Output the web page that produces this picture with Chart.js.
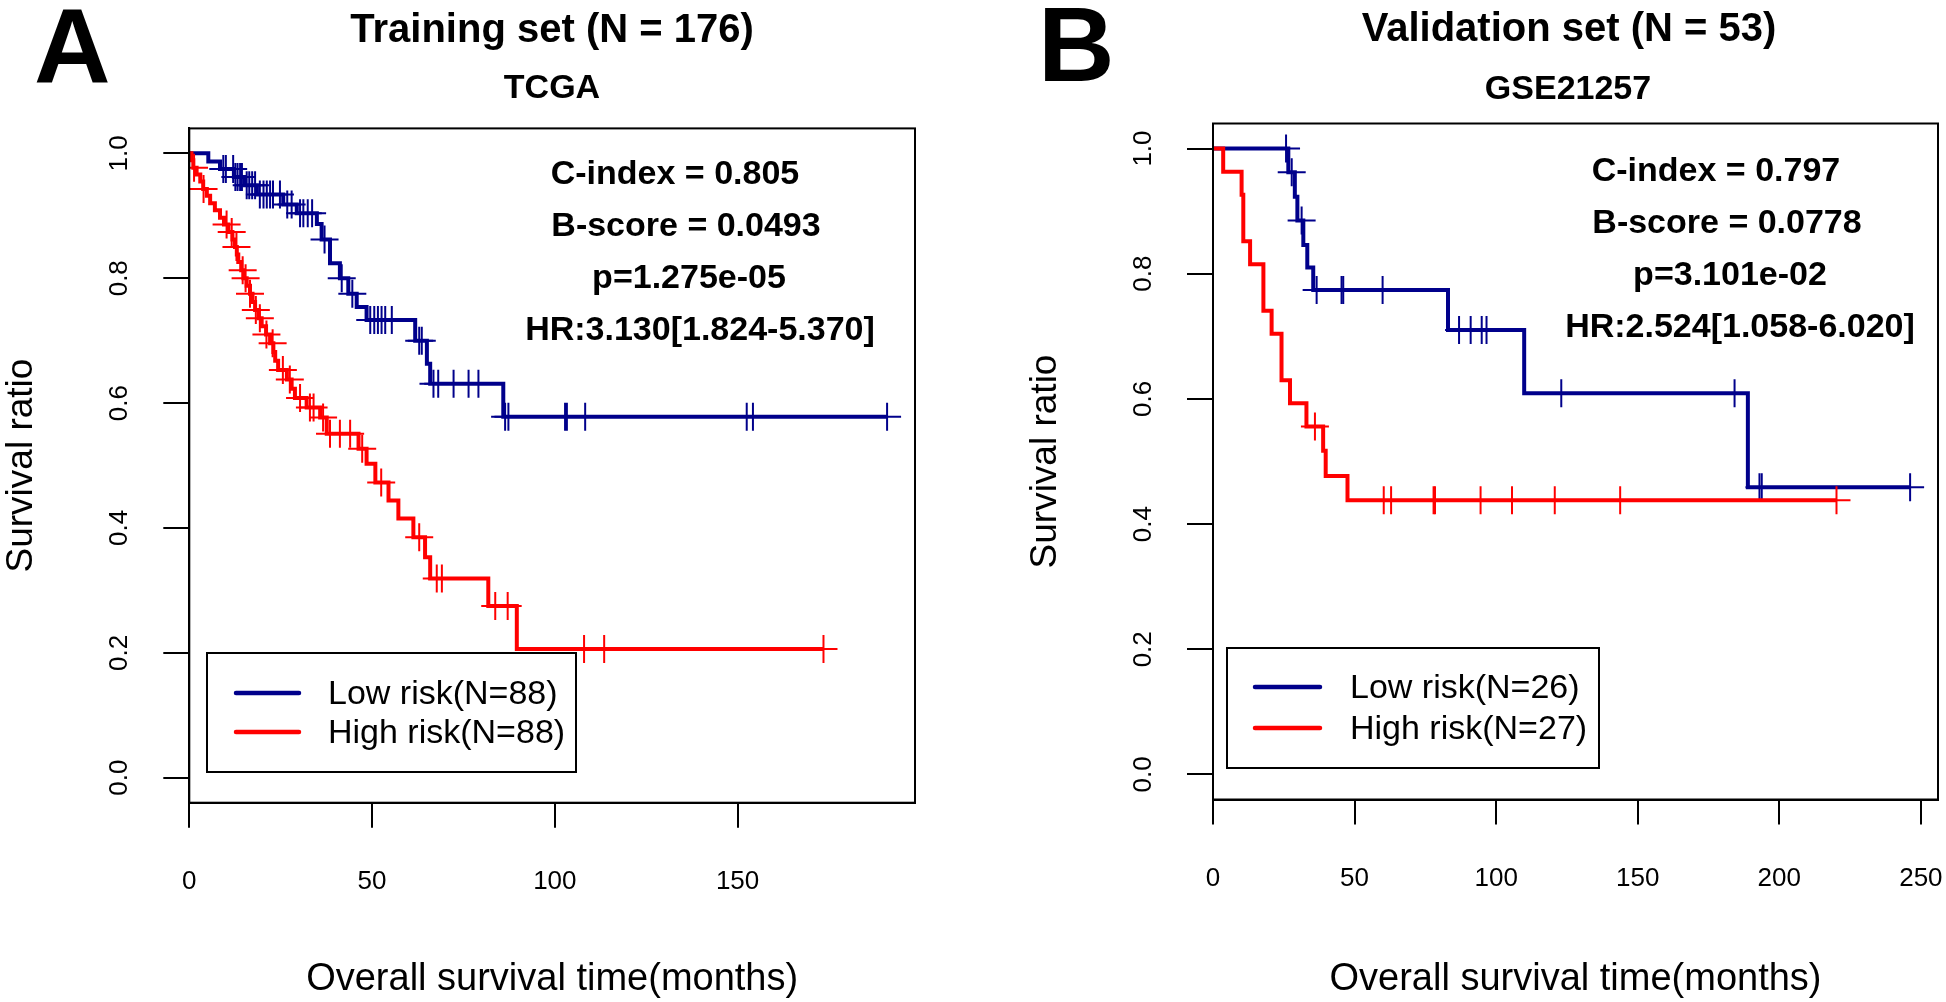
<!DOCTYPE html>
<html>
<head>
<meta charset="utf-8">
<script src="https://cdn.jsdelivr.net/npm/chart.js"></script>
<style>
html,body{margin:0;padding:0;background:#fff;width:1946px;height:1002px;overflow:hidden;position:relative}
canvas{position:absolute;top:0}
#cA{left:0;width:973px;height:1002px}
#cB{left:1024px;width:962px;height:1002px}
</style>
</head>
<body>
<canvas id="cA" width="973" height="1002"></canvas>
<canvas id="cB" width="962" height="1002"></canvas>
<script>
// ---------------- DATA ----------------
// Panel A (TCGA training set)
const lowA_eventTimes = [5.2, 8.4, 12.2, 15.2, 18.5, 25.7, 29.4, 34.9, 36.2, 38.5, 41.2, 43.5, 45.8, 48.5, 61.8, 65.0, 65.9, 85.9];
const lowA_survival   = [0.987, 0.975, 0.962, 0.949, 0.934, 0.918, 0.904, 0.887, 0.862, 0.824, 0.800, 0.775, 0.754, 0.733, 0.700, 0.663, 0.631, 0.578];
const lowA_censorTimes = [9.3, 10.0, 12.0, 12.6, 13.2, 13.9, 14.4, 15.7, 16.4, 17.2, 18.0, 19.3, 20.3, 21.2, 22.1, 22.9, 24.8, 26.8, 28.0, 30.3, 31.2, 32.4, 33.6, 37.0, 41.7, 44.6, 49.5, 50.6, 51.6, 52.6, 53.6, 55.4, 62.9, 63.6, 66.8, 68.1, 72.3, 76.4, 79.1, 86.4, 87.3, 102.8, 103.3, 108.3, 152.5, 154.2, 190.9];

const highA_eventTimes = [0.6, 1.1, 2.0, 3.0, 3.8, 4.8, 5.7, 7.0, 8.4, 9.5, 10.7, 11.8, 12.5, 13.0, 13.4, 14.2, 14.8, 15.7, 16.6, 17.3, 18.0, 19.0, 19.8, 21.0, 22.1, 23.0, 23.5, 24.3, 26.7, 28.0, 28.9, 32.1, 35.8, 37.6, 46.3, 48.5, 50.9, 54.5, 57.2, 61.3, 64.5, 65.9, 81.8, 89.6];
const highA_survival   = [0.989, 0.977, 0.966, 0.955, 0.943, 0.932, 0.920, 0.909, 0.897, 0.886, 0.874, 0.862, 0.850, 0.838, 0.826, 0.813, 0.800, 0.788, 0.775, 0.762, 0.749, 0.736, 0.723, 0.710, 0.696, 0.682, 0.668, 0.653, 0.638, 0.623, 0.608, 0.593, 0.577, 0.551, 0.527, 0.503, 0.473, 0.444, 0.415, 0.385, 0.353, 0.319, 0.275, 0.206];
const highA_censorTimes = [1.3, 3.9, 10.2, 11.6, 12.9, 14.6, 15.4, 16.6, 18.2, 19.3, 21.1, 22.8, 25.6, 27.5, 30.3, 33.0, 34.0, 36.6, 38.5, 41.2, 44.0, 47.3, 52.5, 62.9, 67.7, 69.1, 83.7, 87.1, 108.0, 113.5, 173.5];

// Panel B (GSE21257 validation set)
const lowB_eventTimes = [26.6, 28.9, 29.8, 31.9, 33.3, 35.4, 83.0, 109.9, 188.9];
const lowB_survival   = [0.962, 0.923, 0.885, 0.846, 0.810, 0.774, 0.710, 0.609, 0.459];
const lowB_censorTimes = [25.8, 27.8, 31.3, 36.6, 45.4, 46.0, 59.9, 86.9, 91.0, 94.9, 96.6, 123.0, 184.2, 193.0, 193.8, 246.2];

const highB_eventTimes = [3.6, 10.1, 10.7, 13.1, 17.8, 20.7, 24.2, 27.2, 33.0, 38.9, 39.8, 47.5];
const highB_survival   = [0.963, 0.926, 0.852, 0.815, 0.741, 0.704, 0.630, 0.593, 0.556, 0.517, 0.477, 0.438];
const highB_censorTimes = [36.0, 60.3, 62.9, 77.9, 78.4, 94.5, 105.6, 120.7, 143.8, 220.2];

// Ticks / labels / texts
const xTicksA = [0, 50, 100, 150];
const xTicksB = [0, 50, 100, 150, 200, 250];
const yTicks = [0, 0.2, 0.4, 0.6, 0.8, 1.0];
const yTickLabels = ['0.0', '0.2', '0.4', '0.6', '0.8', '1.0'];
const legendA = ['Low risk(N=88)', 'High risk(N=88)'];
const legendB = ['Low risk(N=26)', 'High risk(N=27)'];
const titleA = ['Training set (N = 176)', 'TCGA'];
const titleB = ['Validation set (N = 53)', 'GSE21257'];
const statsA = ['C-index = 0.805', 'B-score = 0.0493', 'p=1.275e-05', 'HR:3.130[1.824-5.370]'];
const statsB = ['C-index = 0.797', 'B-score = 0.0778', 'p=3.101e-02', 'HR:2.524[1.058-6.020]'];
const xTitle = 'Overall survival time(months)';
const yTitle = 'Survival ratio';

// ---------------- HELPERS ----------------
const BLUE = '#00008B', RED = '#FF0000';
const FONT = "'Liberation Sans', Arial, Helvetica, sans-serif";

function kmCurve(times, surv, cens) {
  const pts = [{x: 0, y: 1}];
  times.forEach((t, i) => pts.push({x: t, y: surv[i]}));
  const end = Math.max(...cens, ...times);
  pts.push({x: end, y: surv[surv.length - 1]});
  return pts;
}
function survAt(times, surv, t) {
  let s = 1;
  for (let i = 0; i < times.length; i++) if (times[i] <= t) s = surv[i];
  return s;
}
function censorPts(times, surv, cens) {
  return cens.map(c => ({x: c, y: survAt(times, surv, c)}));
}

function makePanel(id, p) {
  const allT = [].concat(p.low[0], p.low[2], p.high[0], p.high[2]);
  const xmax = 1.04 * Math.max(...allT);
  const ox = p.ox;

  const decoPlugin = {
    id: 'deco_' + id,
    afterDraw(chart) {
      const ctx = chart.ctx;
      const a = chart.chartArea;
      ctx.save();
      // plot frame
      ctx.strokeStyle = '#000'; ctx.lineWidth = 2;
      ctx.strokeRect(a.left, a.top, a.right - a.left, a.bottom - a.top);
      ctx.fillStyle = '#000';
      ctx.textBaseline = 'alphabetic';
      // panel letter
      ctx.textAlign = 'left';
      ctx.font = 'bold 106px ' + FONT;
      ctx.fillText(p.letter, p.letterX - ox, p.letterY);
      // titles
      ctx.textAlign = 'center';
      ctx.font = 'bold 40px ' + FONT;
      ctx.fillText(p.titles[0], p.titleX - ox, p.titleY);
      ctx.font = 'bold 34px ' + FONT;
      ctx.fillText(p.titles[1], p.subX - ox, p.subY);
      // stats
      ctx.font = 'bold 34px ' + FONT;
      p.stats.forEach((s, i) => ctx.fillText(s, p.statX[i] - ox, p.statY[i]));
      // legend
      const L = p.legend;
      ctx.strokeStyle = '#000'; ctx.lineWidth = 2;
      ctx.strokeRect(L.x - ox, L.y, L.w, L.h);
      const ds = chart.data.datasets;
      ctx.font = '34px ' + FONT;
      ctx.textAlign = 'left';
      for (let i = 0; i < 2; i++) {
        ctx.strokeStyle = ds[i].borderColor;
        ctx.lineWidth = 4.5; ctx.lineCap = 'round';
        ctx.beginPath();
        ctx.moveTo(L.lx0 - ox, L.ly[i]);
        ctx.lineTo(L.lx1 - ox, L.ly[i]);
        ctx.stroke();
        ctx.fillStyle = '#000';
        ctx.fillText(ds[i].label, L.tx - ox, L.ty[i]);
      }
      ctx.restore();
    }
  };

  const gridOpts = (tl) => ({drawOnChartArea: false, drawTicks: true, tickLength: tl, tickWidth: 2, tickColor: '#000', lineWidth: 2, color: '#000'});

  return new Chart(document.getElementById(id), {
    type: 'line',
    data: {
      datasets: [
        {label: p.labels[0], data: kmCurve(...p.low), borderColor: BLUE, borderWidth: 4, stepped: 'before', pointRadius: 0, fill: false, order: 4},
        {label: p.labels[1], data: kmCurve(...p.high), borderColor: RED, borderWidth: 4, stepped: 'before', pointRadius: 0, fill: false, order: 2},
        {label: 'censor low', data: censorPts(...p.low), showLine: false, pointStyle: 'cross', pointRadius: 14, pointBorderWidth: 2, pointBorderColor: BLUE, borderColor: BLUE, order: 3},
        {label: 'censor high', data: censorPts(...p.high), showLine: false, pointStyle: 'cross', pointRadius: 14, pointBorderWidth: 2, pointBorderColor: RED, borderColor: RED, order: 1}
      ]
    },
    options: {
      responsive: false,
      animation: false,
      devicePixelRatio: 1,
      layout: {padding: {top: p.padTop, right: p.padRight, left: 0, bottom: 0}},
      plugins: {legend: {display: false}, tooltip: {enabled: false}, title: {display: false}},
      scales: {
        x: {
          type: 'linear', position: 'bottom', min: 0, max: xmax,
          afterBuildTicks: s => { s.ticks = p.xTicks.map(v => ({value: v})); },
          afterFit: s => { s.height = p.xHeight; },
          grid: gridOpts(25),
          border: {display: true, color: '#000', width: 2},
          ticks: {color: '#000', font: {family: FONT, size: 26}, padding: 39, minRotation: 0, maxRotation: 0, autoSkip: false,
                  callback: (v) => String(v)},
          title: {display: true, text: xTitle, color: '#000', font: {family: FONT, size: 38}, padding: {top: 0, bottom: 0}}
        },
        y: {
          type: 'linear', position: 'left', min: -0.04, max: 1.04,
          afterBuildTicks: s => { s.ticks = yTicks.map(v => ({value: v})); },
          afterFit: s => { s.width = p.yWidth; },
          grid: gridOpts(26),
          border: {display: true, color: '#000', width: 2},
          ticks: {color: '#000', font: {family: FONT, size: 26}, padding: 25, minRotation: 90, maxRotation: 90, crossAlign: 'center', autoSkip: false,
                  callback: (v, i) => yTickLabels[i]},
          title: {display: true, text: yTitle, color: '#000', font: {family: FONT, size: 37}, padding: {top: 0, bottom: 0}}
        }
      }
    },
    plugins: [decoPlugin]
  });
}

makePanel('cA', {
  ox: 0,
  low: [lowA_eventTimes, lowA_survival, lowA_censorTimes],
  high: [highA_eventTimes, highA_survival, highA_censorTimes],
  labels: legendA, titles: titleA, stats: statsA, xTicks: xTicksA,
  padTop: 128.4, padRight: 58, xHeight: 199.3, yWidth: 189.3,
  letter: 'A', letterX: 34, letterY: 83,
  titleX: 552, titleY: 42, subX: 552, subY: 98,
  statX: [675, 686, 689, 700], statY: [184, 236, 288, 340],
  legend: {x: 207, y: 653, w: 369, h: 119, lx0: 236, lx1: 299, ly: [693, 732], tx: 328, ty: [704, 743]}
});

makePanel('cB', {
  ox: 1024,
  low: [lowB_eventTimes, lowB_survival, lowB_censorTimes],
  high: [highB_eventTimes, highB_survival, highB_censorTimes],
  labels: legendB, titles: titleB, stats: statsB, xTicks: xTicksB,
  padTop: 123.5, padRight: 48, xHeight: 202.5, yWidth: 189,
  letter: 'B', letterX: 1038, letterY: 81,
  titleX: 1569, titleY: 41, subX: 1568, subY: 99,
  statX: [1716, 1727, 1730, 1740], statY: [181, 233, 285, 337],
  legend: {x: 1227, y: 648, w: 372, h: 120, lx0: 1255, lx1: 1320, ly: [687, 728], tx: 1350, ty: [698, 739]}
});
</script>
</body>
</html>
